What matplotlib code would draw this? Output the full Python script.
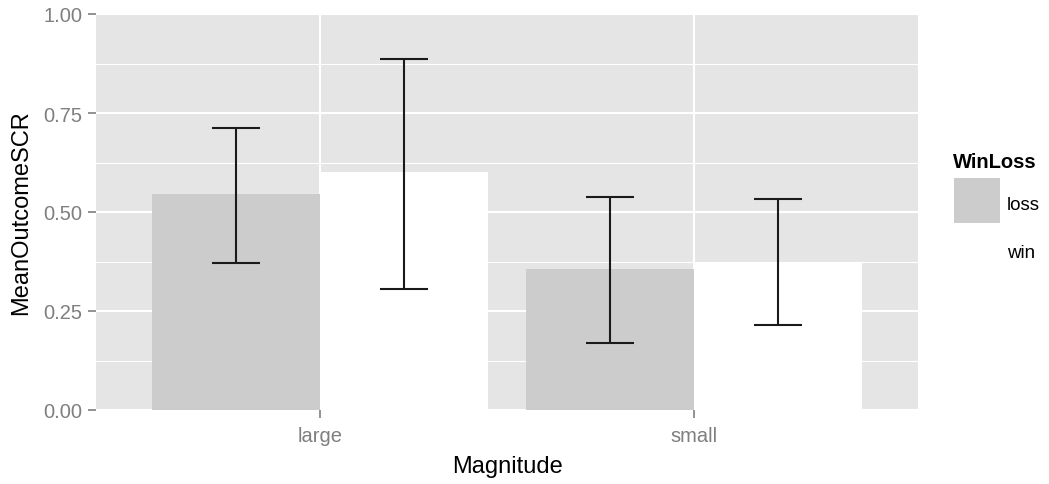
import numpy as np
import matplotlib.pyplot as plt
from matplotlib.patches import Rectangle

plt.rcParams["font.family"] = ["Liberation Sans", "DejaVu Sans"]

# data
magnitudes = ["large", "small"]
groups = ["loss", "win"]
mean_loss = [0.546, 0.357]
mean_win = [0.601, 0.375]
lo_loss = [0.372, 0.170]
hi_loss = [0.711, 0.538]
lo_win = [0.306, 0.215]
hi_win = [0.887, 0.533]

colors = {"loss": "#CCCCCC", "win": "#FFFFFF"}

W, H = 1049, 485
fig = plt.figure(figsize=(W / 100, H / 100), dpi=100)
ax = fig.add_axes([96 / W, 74 / H, 822 / W, 396 / H])
ax.set_facecolor("#E5E5E5")

x = np.arange(1, len(magnitudes) + 1)
bw = 0.45
cap = 0.064

# grid first, bars drawn on top
for v in [0.125, 0.375, 0.625, 0.875]:
    ax.axhline(v, color="white", lw=0.8, zorder=0)
for v in [0.0, 0.25, 0.5, 0.75, 1.0]:
    ax.axhline(v, color="white", lw=1.5, zorder=0)
for v in x:
    ax.axvline(v, color="white", lw=1.5, zorder=0)

series = [
    ("loss", mean_loss, lo_loss, hi_loss, -bw / 2),
    ("win", mean_win, lo_win, hi_win, bw / 2),
]
for name, means, lo, hi, off in series:
    xs = x + off
    ax.bar(xs, means, width=bw, color=colors[name], zorder=2)
    ax.vlines(xs, lo, hi, color="#1A1A1A", lw=1.5, zorder=3)
    ax.hlines(lo, xs - cap, xs + cap, color="#1A1A1A", lw=1.5, zorder=3)
    ax.hlines(hi, xs - cap, xs + cap, color="#1A1A1A", lw=1.5, zorder=3)

ax.set_xlim(0.4, 2.6)
ax.set_ylim(0, 1)
ax.set_xticks(x)
ax.set_xticklabels(magnitudes)
ax.set_yticks([0, 0.25, 0.5, 0.75, 1.0])
ax.set_yticklabels(["0.00", "0.25", "0.50", "0.75", "1.00"])
ax.tick_params(colors="#7F7F7F", labelcolor="#7F7F7F", labelsize=14.5,
               length=5.5, width=1.2)
ax.tick_params(axis="x", pad=6)
ax.tick_params(axis="y", pad=4.5)
for s in ax.spines.values():
    s.set_visible(False)

ax.set_xlabel("Magnitude", fontsize=17, color="black", labelpad=7)
ax.set_ylabel("MeanOutcomeSCR", fontsize=17, color="black", labelpad=8)

# legend drawn by hand (ggplot style: big keys, white "win" key)
fig.text(953 / W, 1 - 163 / H, "WinLoss", fontsize=14.5, fontweight="bold",
         ha="left", va="center")
key_top = 179
for i, g in enumerate(groups):
    top = key_top + i * 48
    fig.add_artist(Rectangle((954 / W, 1 - (top + 45) / H), 46 / W, 45 / H,
                             transform=fig.transFigure, facecolor=colors[g],
                             edgecolor="none"))
    fig.text(1007 / W, 1 - (top + 26) / H, g, fontsize=13.5,
             ha="left", va="center")

fig.savefig("out.png", dpi=100)
